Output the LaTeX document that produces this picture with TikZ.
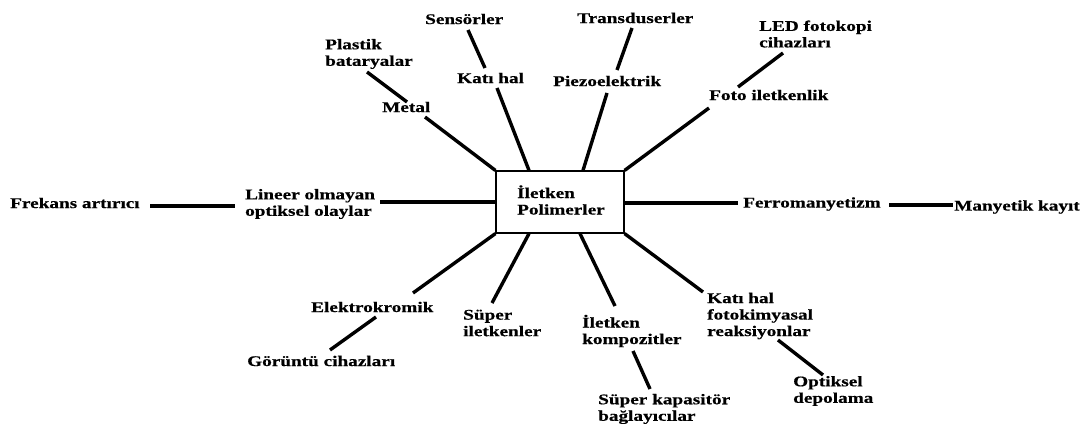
\documentclass[tikz,border=0pt]{standalone}
\usepackage{fontspec}
\newfontfamily\lab{Liberation Serif}[FakeStretch=1.3,FakeBold=0.5]
\begin{document}
\begin{tikzpicture}[x=1pt,y=-1pt,
  lbl/.style={inner sep=0pt,anchor=west,align=left,font=\lab\bfseries\fontsize{14.8}{16.5}\selectfont},
  conn/.style={line width=3.4pt,black},
  centerbox/.style={draw,line width=1.2pt,minimum width=128pt,minimum height=62pt,inner sep=0pt}]
\useasboundingbox (0,0) rectangle (1091,423);
% central box
\node[centerbox] (box) at (560,202) {};
\node[lbl] (boxtext) at (517,200) {İletken\\Polimerler};
% labels
\node[lbl] (sens) at (425,19) {Sensörler};
\node[lbl] (trans) at (577,18) {Transduserler};
\node[lbl] (plastik) at (325,54) {Plastik\\bataryalar};
\node[lbl] (katihal) at (457,78) {Katı hal};
\node[lbl] (piezo) at (553,81) {Piezoelektrik};
\node[lbl] (metal) at (382,107) {Metal};
\node[lbl] (led) at (759,34) {LED fotokopi\\cihazları};
\node[lbl] (foto) at (709,95) {Foto iletkenlik};
\node[lbl] (lineer) at (245,204) {Lineer olmayan\\optiksel olaylar};
\node[lbl] (frek) at (10,203) {Frekans artırıcı};
\node[lbl] (ferro) at (743,204) {Ferromanyetizm};
\node[lbl] (many) at (954,207) {Manyetik kayıt};
\node[lbl] (elektro) at (311,307) {Elektrokromik};
\node[lbl] (super) at (463,323) {Süper\\iletkenler};
\node[lbl] (komp) at (582,331) {İletken\\kompozitler};
\node[lbl] (goruntu) at (247,361) {Görüntü cihazları};
\node[lbl] (kapas) at (598,409) {Süper kapasitör\\bağlayıcılar};
\node[lbl] (fotokim) at (707,316) {Katı hal\\fotokimyasal\\reaksiyonlar};
\node[lbl] (optik) at (793,391) {Optiksel\\depolama};
% connector end points
\coordinate (metalA) at (425,117);
\coordinate (metalB) at (407,102);
\coordinate (plastikA) at (367,72);
\coordinate (sensA) at (468,30);
\coordinate (katihalB) at (485,68);
\coordinate (katihalA) at (497,88);
\coordinate (transA) at (632,28);
\coordinate (piezoB) at (617,70);
\coordinate (piezoA) at (607,93);
\coordinate (fotoA) at (709,108);
\coordinate (ledA) at (783,53);
\coordinate (fotoB) at (738,87);
\coordinate (ferroA) at (738,203);
\coordinate (ferroB) at (889,205);
\coordinate (manyA) at (953,205);
\coordinate (lineerA) at (380,202);
\coordinate (lineerB) at (235,206);
\coordinate (frekA) at (150,206);
\coordinate (elektroA) at (413,293);
\coordinate (superA) at (492,303);
\coordinate (kompA) at (615,306);
\coordinate (fotokimA) at (703,292);
\coordinate (elektroB) at (376,317);
\coordinate (goruntuA) at (330,350);
\coordinate (kompB) at (633,351);
\coordinate (kapasA) at (650,389);
\coordinate (fotokimB) at (778,340);
\coordinate (optikA) at (823,375);
% connectors
\draw[conn] (box.north west) -- (metalA);
\draw[conn] (metalB) -- (plastikA);
\draw[conn] (sensA) -- (katihalB);
\draw[conn] (katihalA) -- (box.north west -| 529,0);
\draw[conn] (transA) -- (piezoB);
\draw[conn] (piezoA) -- (box.north west -| 583,0);
\draw[conn] (box.north east) -- (fotoA);
\draw[conn] (ledA) -- (fotoB);
\draw[conn] (box.east) ++(0,1) -- (ferroA);
\draw[conn] (ferroB) -- (manyA);
\draw[conn] (lineerA) -- (box.west);
\draw[conn] (frekA) -- (lineerB);
\draw[conn] (box.south west) -- (elektroA);
\draw[conn] (box.south west -| 529,0) -- (superA);
\draw[conn] (box.south west -| 580,0) -- (kompA);
\draw[conn] (box.south east) -- (fotokimA);
\draw[conn] (elektroB) -- (goruntuA);
\draw[conn] (kompB) -- (kapasA);
\draw[conn] (fotokimB) -- (optikA);
\end{tikzpicture}
\end{document}
